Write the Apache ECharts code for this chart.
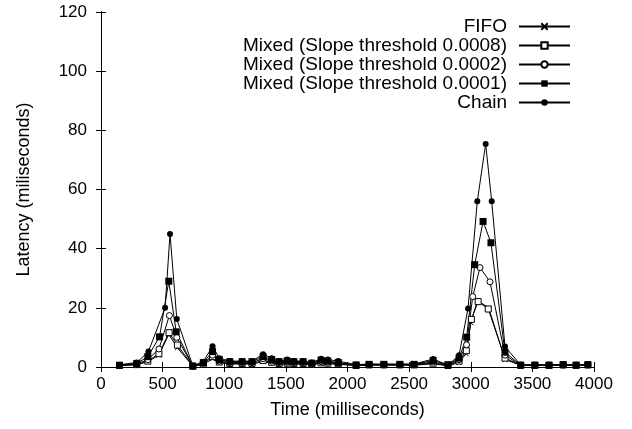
<!DOCTYPE html>
<html>
<head>
<meta charset="utf-8">
<script src="https://cdn.jsdelivr.net/npm/echarts@6/dist/echarts.min.js"></script>
<style>html,body{margin:0;padding:0;background:#fff}#c{width:632px;height:429px}</style>
</head>
<body>
<div id="c"></div>
<script>
// Tick values
var xTicks = [0, 500, 1000, 1500, 2000, 2500, 3000, 3500, 4000];
var yTicks = [0, 20, 40, 60, 80, 100, 120];

var seriesNames = ['FIFO', 'Mixed (Slope threshold 0.0008)', 'Mixed (Slope threshold 0.0002)', 'Mixed (Slope threshold 0.0001)', 'Chain'];

// shared sample times (ms)
var midTimes = [745, 830, 905, 960, 1045, 1145, 1225, 1315, 1385, 1445, 1510, 1565, 1640, 1710, 1785, 1840, 1925, 2070, 2175, 2295, 2425, 2540, 2695, 2815, 2905];
var tailTimes = [3278, 3405, 3520, 3635, 3750, 3855, 3950];

// FIFO
var fifoHeadT = [150, 290, 380, 470, 550, 620];
var fifoHeadV = [0.5, 0.8, 1.8, 4.0, 11.0, 6.5];
var fifoMidV = [0.3, 0.8, 2.8, 1.4, 1.0, 1.0, 1.0, 1.8, 1.3, 1.0, 1.1, 1.0, 1.0, 0.8, 1.2, 1.1, 0.9, 0.5, 0.6, 0.6, 0.6, 0.6, 1.1, 0.4, 1.5];
var fifoPeakT = [2962, 3000, 3055, 3145];
var fifoPeakV = [4.5, 15.0, 22.5, 20.0];
var fifoTailV = [2.5, 0.6, 0.6, 0.6, 0.7, 0.6, 0.7];

// Mixed 0.0008
var m8HeadT = [150, 290, 380, 470, 552, 620];
var m8HeadV = [0.5, 0.8, 2.0, 4.5, 11.6, 7.4];
var m8MidV = [0.3, 1.0, 3.5, 1.7, 1.2, 1.2, 1.2, 2.2, 1.6, 1.2, 1.3, 1.2, 1.2, 0.9, 1.4, 1.3, 1.1, 0.5, 0.7, 0.7, 0.7, 0.7, 1.3, 0.5, 2.0];
var m8PeakT = [2964, 3005, 3060, 3142];
var m8PeakV = [5.5, 16.1, 22.1, 19.6];
var m8TailV = [3.0, 0.6, 0.6, 0.6, 0.7, 0.6, 0.7];

// Mixed 0.0002
var m2HeadT = [150, 290, 380, 470, 555, 615];
var m2HeadV = [0.5, 1.0, 2.5, 6.1, 17.4, 10.0];
var m2MidV = [0.3, 1.2, 4.0, 2.0, 1.5, 1.5, 1.5, 2.8, 2.0, 1.5, 1.6, 1.5, 1.5, 1.1, 1.8, 1.6, 1.3, 0.6, 0.8, 0.8, 0.8, 0.8, 1.7, 0.6, 2.5];
var m2PeakT = [2966, 3016, 3075, 3156];
var m2PeakV = [7.5, 23.8, 33.6, 28.8];
var m2TailV = [4.0, 0.6, 0.6, 0.6, 0.7, 0.6, 0.7];

// Mixed 0.0001
var m1HeadT = [150, 290, 380, 475, 550, 610];
var m1HeadV = [0.6, 1.2, 3.5, 10.2, 29.0, 11.9];
var m1MidV = [0.3, 1.5, 5.2, 2.5, 1.8, 1.8, 1.8, 3.5, 2.5, 1.8, 2.0, 1.8, 1.8, 1.3, 2.3, 2.0, 1.5, 0.7, 0.9, 0.9, 0.9, 0.9, 2.2, 0.8, 3.0];
var m1PeakT = [2967, 3032, 3100, 3164];
var m1PeakV = [10.1, 34.6, 49.2, 42.0];
var m1TailV = [5.0, 0.6, 0.6, 0.6, 0.8, 0.6, 0.8];

// Chain
var chHeadT = [150, 290, 385, 520, 560, 615];
var chHeadV = [0.8, 1.5, 5.2, 20.0, 45.0, 16.2];
var chMidV = [0.4, 1.8, 7.0, 3.0, 2.0, 2.0, 2.0, 4.3, 3.0, 2.0, 2.5, 2.0, 2.0, 1.5, 2.8, 2.5, 2.0, 0.8, 1.0, 1.0, 1.0, 1.0, 2.7, 0.6, 4.0];
var chPeakT = [2978, 3053, 3121, 3170];
var chPeakV = [19.8, 56.0, 75.4, 56.0];
var chTailV = [6.9, 0.7, 0.7, 0.7, 0.8, 0.7, 0.8];

function build(headT, headV, midV, peakT, peakV, tailV) {
  var t = headT.concat(midTimes, peakT, tailTimes);
  var v = headV.concat(midV, peakV, tailV);
  return t.map(function (x, i) { return [x, v[i]]; });
}

var FONT = 'Liberation Sans';
var chart = echarts.init(document.getElementById('c'), null, {renderer: 'canvas'});

function mk(name, data, symbol, size, fill, bw) {
  return {
    name: name, type: 'line', data: data, symbol: symbol, symbolSize: size,
    showAllSymbol: true, animation: false,
    lineStyle: {color: '#000', width: 1},
    itemStyle: {color: fill, borderColor: '#000', borderWidth: bw},
    emphasis: {disabled: true}
  };
}

var axisCommon = {
  type: 'value',
  axisLine: {show: true, lineStyle: {color: '#000', width: 1}},
  axisTick: {show: true, inside: true, length: 5, lineStyle: {color: '#000'}},
  splitLine: {show: false}
};

chart.setOption({
  backgroundColor: '#fff',
  animation: false,
  grid: {left: 101, right: 38, top: 12, bottom: 62},
  legend: {
    orient: 'vertical', align: 'right', right: 61, top: 17, padding: 0,
    itemWidth: 51, itemHeight: 8, itemGap: 0,
    textStyle: {fontFamily: FONT, fontSize: 19, color: '#000', lineHeight: 19, padding: [0, 7, 0, 0]},
    data: seriesNames
  },
  xAxis: [
    Object.assign({}, axisCommon, {
      min: xTicks[0], max: xTicks[xTicks.length - 1], interval: 500, position: 'bottom',
      name: 'Time (milliseconds)', nameLocation: 'middle', nameGap: 34,
      nameTextStyle: {fontFamily: FONT, fontSize: 18, color: '#000'},
      axisLabel: {fontFamily: FONT, fontSize: 17, color: '#000', margin: 9, formatter: function (v) { return String(v); }}
    }),
    Object.assign({}, axisCommon, {
      min: xTicks[0], max: xTicks[xTicks.length - 1], interval: 500, position: 'top',
      axisLabel: {show: false}
    })
  ],
  yAxis: [
    Object.assign({}, axisCommon, {
      min: yTicks[0], max: yTicks[yTicks.length - 1], interval: 20, position: 'left',
      name: 'Latency (miliseconds)', nameLocation: 'middle', nameGap: 68,
      nameTextStyle: {fontFamily: FONT, fontSize: 18, color: '#000'},
      axisLabel: {fontFamily: FONT, fontSize: 17, color: '#000', margin: 14}
    }),
    Object.assign({}, axisCommon, {
      min: yTicks[0], max: yTicks[yTicks.length - 1], interval: 20, position: 'right',
      axisLabel: {show: false}
    })
  ],
  series: [
    mk(seriesNames[0], build(fifoHeadT, fifoHeadV, fifoMidV, fifoPeakT, fifoPeakV, fifoTailV), 'path://M0,0L10,10M10,0L0,10', 5, '#000', 1),
    mk(seriesNames[1], build(m8HeadT, m8HeadV, m8MidV, m8PeakT, m8PeakV, m8TailV), 'rect', 6, '#fff', 1),
    mk(seriesNames[2], build(m2HeadT, m2HeadV, m2MidV, m2PeakT, m2PeakV, m2TailV), 'circle', 6, '#fff', 1),
    mk(seriesNames[3], build(m1HeadT, m1HeadV, m1MidV, m1PeakT, m1PeakV, m1TailV), 'rect', 7, '#000', 0),
    mk(seriesNames[4], build(chHeadT, chHeadV, chMidV, chPeakT, chPeakV, chTailV), 'circle', 6, '#000', 0)
  ]
});
</script>
</body>
</html>
